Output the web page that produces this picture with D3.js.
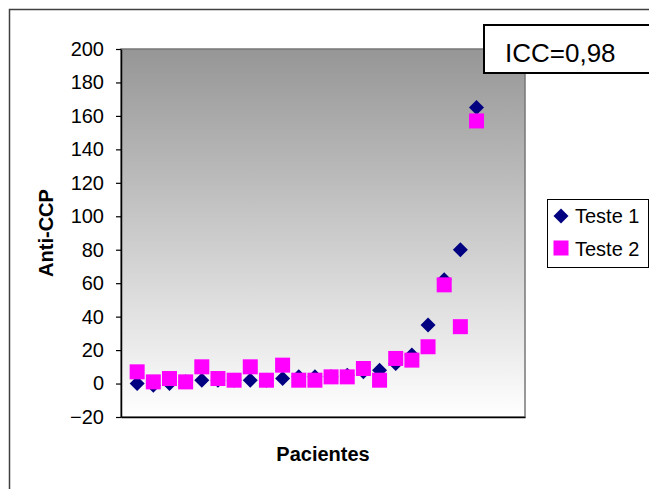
<!DOCTYPE html>
<meta charset="utf-8">
<head>
    <title>Anti-CCP Teste 1 x Teste 2</title>
    <script src="https://d3js.org/d3.v7.min.js"></script>
    <style>
        body { margin: 0; background: #fff; }
        svg { display: block; }
        text { font-family: 'Liberation Sans', Arial, sans-serif; fill: #000; }
        .tick text { font-size: 20px; }
        .tick line, .domain { stroke: #000; }
        text.label { font-size: 20px; font-weight: bold; }
        text.legend { font-size: 20px; }
        text.icc { font-size: 26px; }
    </style>
</head>
<body>
<svg width="649" height="489"></svg>
<script>
    const pacientes = d3.range(1, 23);
    const teste1 = [0, -1, 0, 1, 2, 2, 2, 2, 2, 3, 4, 4, 4, 5, 7, 8, 12, 17, 35, 62, 80, 165];
    const teste2 = [7, 1, 3, 1, 10, 3, 2, 10, 2, 11, 2, 2, 4, 4, 9, 2, 15, 14, 22, 59, 34, 157];
    const yTicks = d3.range(-20, 201, 20);
    const seriesNames = ['Teste 1', 'Teste 2'];

    const svg = d3.select('svg');
    const plot = {left: 121, top: 49, right: 525, bottom: 417};

    const x = d3.scaleLinear().domain([0, 25]).range([plot.left, plot.right]);
    const y = d3.scaleLinear().domain([-20, 200]).range([plot.bottom, plot.top]);

    // outer chart border
    svg.append('rect')
        .attr('x', 9.5).attr('y', 9.5).attr('width', 700).attr('height', 600)
        .attr('fill', 'none').attr('stroke', '#404040').attr('stroke-width', 1.5);

    const grad = svg.append('defs').append('linearGradient')
        .attr('id', 'bg').attr('x1', 0).attr('y1', 0).attr('x2', 0).attr('y2', 1);
    grad.append('stop').attr('offset', 0).attr('stop-color', '#969696');
    grad.append('stop').attr('offset', 1).attr('stop-color', '#ffffff');

    svg.append('rect')
        .attr('x', plot.left).attr('y', plot.top)
        .attr('width', plot.right - plot.left).attr('height', plot.bottom - plot.top)
        .attr('fill', 'url(#bg)').attr('stroke', '#777').attr('stroke-width', 1.5);

    svg.append('g')
        .attr('transform', `translate(${plot.left},0)`)
        .call(d3.axisLeft(y).tickValues(yTicks).tickSize(5).tickSizeOuter(0).tickPadding(12))
        .call(g => g.selectAll('.tick line').attr('stroke-width', 1.2))
        .call(g => g.select('.domain').attr('stroke-width', 1.5));

    svg.append('g')
        .attr('transform', `translate(0,${plot.bottom})`)
        .call(d3.axisBottom(x).tickValues([]).tickSizeOuter(0))
        .call(g => g.select('.domain').attr('stroke-width', 1.5));

    const diamond = 'M0,-7.5L7.5,0L0,7.5L-7.5,0Z';

    svg.append('g').selectAll('path')
        .data(pacientes)
        .join('path')
        .attr('d', diamond)
        .attr('fill', '#000080')
        .attr('transform', (d, i) => `translate(${x(d)},${y(teste1[i])})`);

    svg.append('g').selectAll('rect')
        .data(pacientes)
        .join('rect')
        .attr('x', (d) => x(d) - 7.5)
        .attr('y', (d, i) => y(teste2[i]) - 7.5)
        .attr('width', 15).attr('height', 15)
        .attr('fill', '#ff00ff');

    // axis titles
    svg.append('text')
        .attr('class', 'label')
        .attr('transform', `translate(53,${(plot.top + plot.bottom) / 2}) rotate(-90)`)
        .attr('text-anchor', 'middle')
        .text('Anti-CCP');

    svg.append('text')
        .attr('class', 'label')
        .attr('x', (plot.left + plot.right) / 2)
        .attr('y', 461)
        .attr('text-anchor', 'middle')
        .text('Pacientes');

    // legend
    const legend = svg.append('g');
    legend.append('rect')
        .attr('x', 547.5).attr('y', 199.5).attr('width', 101).attr('height', 68)
        .attr('fill', '#fff').attr('stroke', '#000');
    legend.append('path')
        .attr('d', diamond).attr('fill', '#000080')
        .attr('transform', 'translate(561,216)');
    legend.append('rect')
        .attr('x', 553.5).attr('y', 240.5).attr('width', 15).attr('height', 15)
        .attr('fill', '#ff00ff');
    legend.selectAll('text.legend')
        .data(seriesNames)
        .join('text')
        .attr('class', 'legend')
        .attr('x', 575)
        .attr('y', (d, i) => 223 + i * 33)
        .text((d) => d);

    // ICC box
    svg.append('rect')
        .attr('x', 484).attr('y', 25).attr('width', 170).attr('height', 48)
        .attr('fill', '#fff').attr('stroke', '#000').attr('stroke-width', 2);
    svg.append('text')
        .attr('class', 'icc')
        .attr('x', 505).attr('y', 62)
        .text('ICC=0,98');
</script>
</body>
